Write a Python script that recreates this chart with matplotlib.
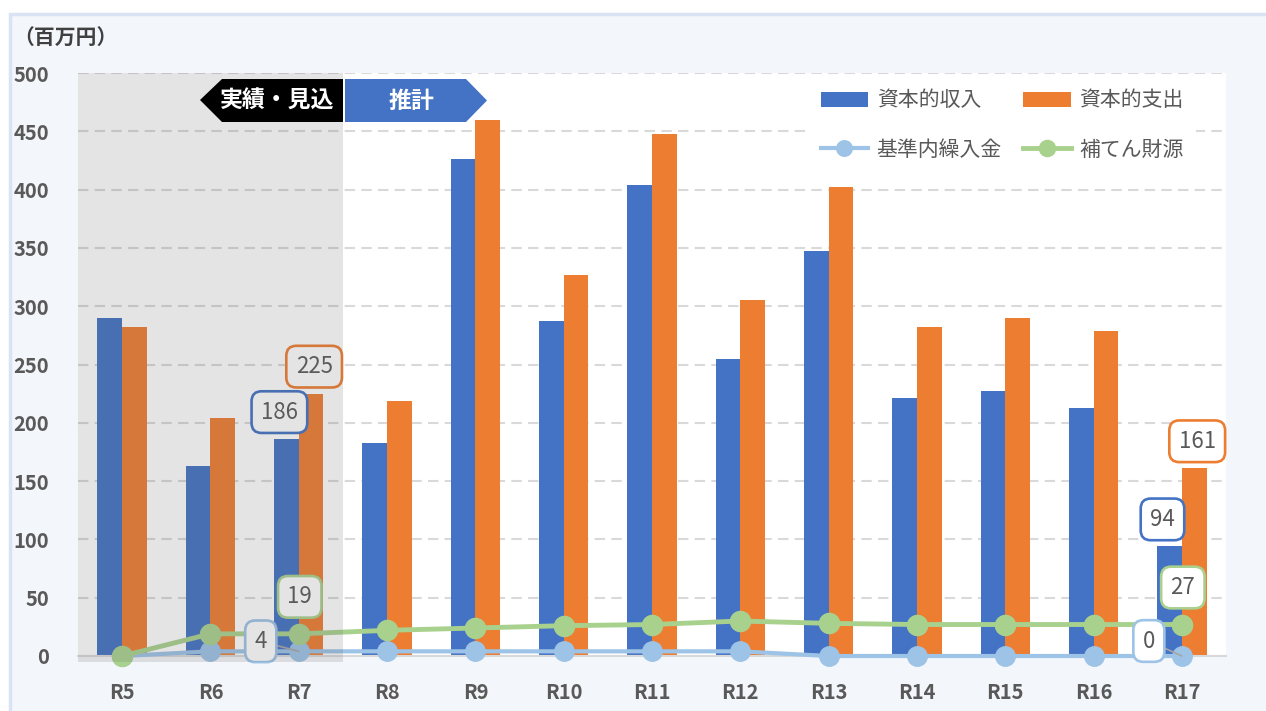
import matplotlib.pyplot as plt
from matplotlib.patches import Polygon, Rectangle
import numpy as np

plt.rcParams['font.family'] = ['Noto Sans CJK JP', 'DejaVu Sans']

# data (百万円)
years = ['R5', 'R6', 'R7', 'R8', 'R9', 'R10', 'R11', 'R12', 'R13', 'R14', 'R15', 'R16', 'R17']
income = [290, 163, 186, 183, 426, 287, 404, 255, 347, 221, 227, 213, 94]      # 資本的収入
expense = [282, 204, 225, 219, 460, 327, 448, 305, 402, 282, 290, 279, 161]    # 資本的支出
transfer = [0, 4, 4, 4, 4, 4, 4, 4, 0, 0, 0, 0, 0]                             # 基準内繰入金
reserve = [0, 19, 19, 22, 24, 26, 27, 30, 28, 27, 27, 27, 27]                  # 補てん財源
n_actual = 3   # R5-R7 are 実績・見込

c_inc = '#4472C4'
c_exp = '#ED7D31'
c_tr = '#9DC3E6'
c_res = '#A9D18E'
txt = '#595959'

W, H = 1266, 711
fig = plt.figure(figsize=(W / 100, H / 100), dpi=100, facecolor='white')

# pixel -> figure fraction
def fx(px):
    return px / W

def fy(py):
    return 1 - py / H

# light panel behind the chart
fig.add_artist(Rectangle((fx(10), fy(725)), fx(1290) - fx(10), fy(14) - fy(725),
                         transform=fig.transFigure, facecolor='#f3f6fb',
                         edgecolor='#dae3f3', lw=2.5, zorder=-1))

ax = fig.add_axes([fx(78), fy(656), (1226 - 78) / W, (656 - 73) / H])
ax.set_facecolor('white')

x = np.arange(len(years))
w = 0.28
ax.bar(x - w / 2, income, w, color=c_inc, zorder=2, label='資本的収入')
ax.bar(x + w / 2, expense, w, color=c_exp, zorder=2, label='資本的支出')
ax.plot(x, transfer, color=c_tr, lw=3, marker='o', ms=14, clip_on=False, zorder=3, label='基準内繰入金')
ax.plot(x, reserve, color=c_res, lw=3.5, marker='o', ms=14.5, clip_on=False, zorder=3, label='補てん財源')

ax.set_xlim(-0.5, len(years) - 0.5)
ax.set_ylim(0, 500)
ax.set_yticks(np.arange(0, 501, 50))
ax.set_xticks(x)
ax.set_xticklabels(years)
ax.yaxis.grid(True, color='#d9d9d9', linestyle=(0, (5, 3)), lw=1.5, zorder=0)
ax.set_axisbelow(True)
for s in ['top', 'left', 'right']:
    ax.spines[s].set_visible(False)
ax.spines['bottom'].set_color('#d9d9d9')
ax.spines['bottom'].set_linewidth(1.5)
ax.tick_params(axis='both', length=0, colors=txt, labelsize=14.5)
ax.tick_params(axis='y', pad=21)
ax.tick_params(axis='x', pad=19)
for lab in ax.get_xticklabels() + ax.get_yticklabels():
    lab.set_fontweight('bold')

# data labels (R7 and R17)
def label(xv, yv, s, color, dx, dy, leader=False):
    kw = {}
    if leader:
        kw['arrowprops'] = dict(arrowstyle='-', color='#a6a6a6', lw=1.2, shrinkA=0, shrinkB=0)
    ax.annotate(s, (xv, yv), xytext=(dx, dy), textcoords='offset pixels',
                ha='center', va='center', fontsize=16, color=txt, zorder=4,
                annotation_clip=False,
                bbox=dict(boxstyle='round,pad=0.42,rounding_size=0.45', fc='white',
                          ec=color, lw=1.9), **kw)

for i in [2, 12]:
    label(i - w / 2, income[i], str(income[i]), c_inc, -7, 27)
    label(i + w / 2, expense[i], str(expense[i]), c_exp, 3, 27)
    label(i, reserve[i], str(reserve[i]), c_res, 1, 37)
label(2, transfer[2], str(transfer[2]), c_tr, -38, 10, leader=True)
label(12, transfer[12], str(transfer[12]), c_tr, -33, 15, leader=True)

# grey overlay for 実績・見込 years
ax.add_patch(Rectangle((-0.5, -5), n_actual, 505, facecolor='#666666', alpha=0.176,
                       lw=0, zorder=5, clip_on=False))

# legend
handles, labels = ax.get_legend_handles_labels()
order = [labels.index(l) for l in ['資本的収入', '基準内繰入金', '資本的支出', '補てん財源']]
leg = ax.legend([handles[k] for k in order], [labels[k] for k in order], ncol=2,
                loc='upper left', bbox_to_anchor=(fx(808), fy(77)), bbox_transform=fig.transFigure,
                frameon=True, facecolor='white', edgecolor='none', framealpha=1,
                fontsize=15, handlelength=2.3, handleheight=0.7, handletextpad=0.4,
                columnspacing=1.0, labelspacing=1.3, borderpad=0.6, borderaxespad=0,
                markerscale=0.8, fancybox=False)
for t in leg.get_texts():
    t.set_color(txt)
leg.set_zorder(6)

# unit
fig.text(fx(13), fy(38), '（百万円）', ha='left', va='center', fontsize=15,
         fontweight='bold', color='#404040')

# period tags
fig.add_artist(Polygon([(fx(200), fy(100)), (fx(222), fy(79)), (fx(343), fy(79)),
                        (fx(343), fy(122)), (fx(222), fy(122))], closed=True,
                       transform=fig.transFigure, facecolor='black', lw=0, zorder=10))
fig.add_artist(Polygon([(fx(345), fy(79)), (fx(466), fy(79)), (fx(487), fy(100.5)),
                        (fx(466), fy(122)), (fx(345), fy(122))], closed=True,
                       transform=fig.transFigure, facecolor=c_inc, lw=0, zorder=10))
fig.text(fx(277), fy(101), '実績・見込', ha='center', va='center', fontsize=16.5,
         fontweight='bold', color='white', zorder=11)
fig.text(fx(411), fy(101), '推計', ha='center', va='center', fontsize=16.5,
         fontweight='bold', color='white', zorder=11)

fig.savefig('out.png', dpi=100)
